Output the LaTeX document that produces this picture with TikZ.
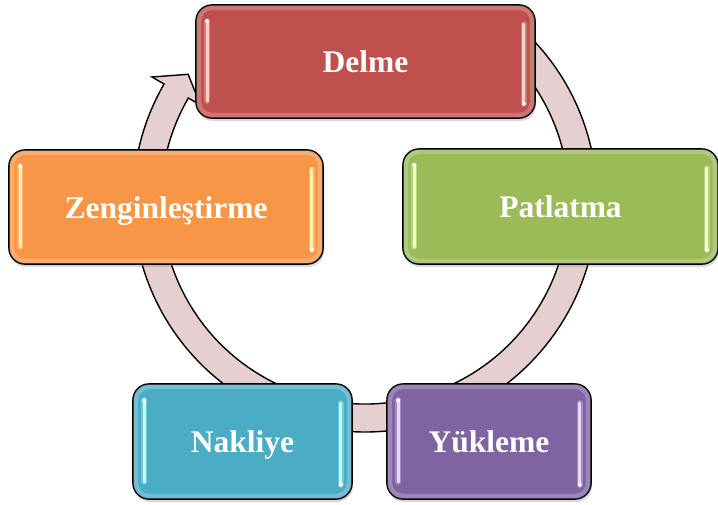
\documentclass[tikz,border=0pt]{standalone}
\usepackage{fontspec}
\setmainfont{Liberation Serif}
\usetikzlibrary{shadows}
\definecolor{cred}{HTML}{C0504D}
\definecolor{cgreen}{HTML}{9BBB59}
\definecolor{corange}{HTML}{F79646}
\definecolor{ccyan}{HTML}{4BACC6}
\definecolor{cpurple}{HTML}{8064A2}
\definecolor{ringc}{HTML}{E6CFD0}
\definecolor{hred}{HTML}{FAD0D0}
\definecolor{hgreen}{HTML}{F2FFC4}
\definecolor{horange}{HTML}{FFF2A8}
\definecolor{hcyan}{HTML}{BDFFFF}
\definecolor{hpurple}{HTML}{E6D8FF}
\newcommand\glossy[2]{%
  \draw[white, opacity=0.22, line width=5pt, rounded corners=13pt]
    ([shift={(3.5pt,-3.5pt)}]#1.north west) rectangle ([shift={(-3.5pt,3.5pt)}]#1.south east);
  \draw[glow,#2] ([xshift=12pt,yshift=-17pt]#1.north west) -- ([xshift=12pt,yshift=18pt]#1.south west);
  \draw[glow,#2] ([xshift=-12pt,yshift=-20pt]#1.north east) -- ([xshift=-12pt,yshift=15pt]#1.south east);
  \draw[gloss,#2] ([xshift=12pt,yshift=-17pt]#1.north west) -- ([xshift=12pt,yshift=18pt]#1.south west);
  \fill[white] ([xshift=12pt,yshift=-17pt]#1.north west) circle (2pt);
  \draw[gloss,#2] ([xshift=-12pt,yshift=-20pt]#1.north east) -- ([xshift=-12pt,yshift=15pt]#1.south east);
  \fill[white] ([xshift=-12pt,yshift=15pt]#1.south east) circle (2pt);
}
\begin{document}
\begin{tikzpicture}[x=1pt,y=1pt,
  stepbox/.style={draw=black, line width=1.6pt, rounded corners=16pt, text=white,
    font=\fontsize{31.5}{36}\selectfont\bfseries, text height=22pt, text depth=0pt,
    inner sep=0pt, drop shadow={opacity=0.3,shadow xshift=1pt,shadow yshift=-3pt}},
  ring/.style={draw=black, line width=1.4pt, fill=ringc, line join=miter},
  gloss/.style={line width=3pt, line cap=round},
  glow/.style={line width=6pt, line cap=round, opacity=0.35}
]
\useasboundingbox (0,0) rectangle (718,-504);
\coordinate (C) at (365,-200);
% circular arrow
\draw[ring] ([shift={(50:232pt)}]C) arc[start angle=50, end angle=-210, radius=232pt]
  -- ([shift={(150:246pt)}]C) -- ([shift={(144.6:217pt)}]C) -- ([shift={(150:190pt)}]C)
  -- ([shift={(150:204pt)}]C) arc[start angle=-210, end angle=50, radius=204pt] -- cycle;
% boxes
\node[stepbox, fill=cred, minimum width=339pt, minimum height=113pt] (d) at (365.5,-61.5) {Delme};
\glossy{d}{hred}
\node[stepbox, fill=cgreen, minimum width=315pt, minimum height=115pt] (p) at (560.5,-206.5) {Patlatma};
\glossy{p}{hgreen}
\node[stepbox, fill=corange, minimum width=314pt, minimum height=114pt] (z) at (166,-207) {Zenginleştirme};
\glossy{z}{horange}
\node[stepbox, fill=ccyan, minimum width=219pt, minimum height=115pt] (n) at (242.5,-441.5) {Nakliye};
\glossy{n}{hcyan}
\node[stepbox, fill=cpurple, minimum width=204pt, minimum height=115pt] (y) at (489,-441.5) {Yükleme};
\glossy{y}{hpurple}
\end{tikzpicture}
\end{document}
